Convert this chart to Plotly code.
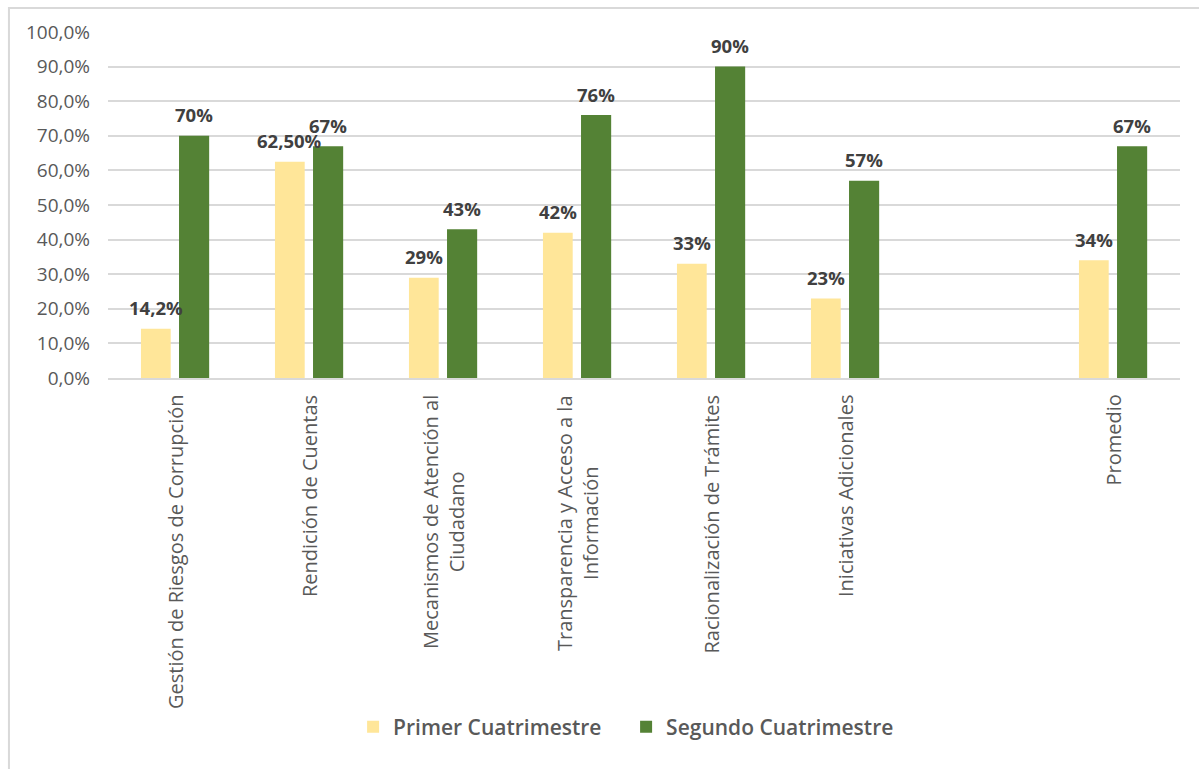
import plotly.graph_objects as go

categories = [
    "Gestión de Riesgos de Corrupción",
    "Rendición de Cuentas",
    "Mecanismos de Atención al<br>Ciudadano",
    "Transparencia y Acceso a la<br>Información",
    "Racionalización de Trámites",
    "Iniciativas Adicionales",
    "",
    "Promedio",
]
primer = [14.2, 62.5, 29, 42, 33, 23, None, 34]
segundo = [70, 67, 43, 76, 90, 57, None, 67]
primer_labels = ["14,2%", "62,50%", "29%", "42%", "33%", "23%", "", "34%"]
segundo_labels = ["70%", "67%", "43%", "76%", "90%", "57%", "", "67%"]
y_ticks = [0, 10, 20, 30, 40, 50, 60, 70, 80, 90, 100]
y_ticktext = ["0,0%", "10,0%", "20,0%", "30,0%", "40,0%", "50,0%", "60,0%", "70,0%", "80,0%", "90,0%", "100,0%"]

YELLOW = "#FFE699"
GREEN = "#548235"
FONT = "Open Sans"

xpos = list(range(len(categories)))

fig = go.Figure()
fig.add_trace(go.Bar(
    x=xpos, y=primer, name="Primer Cuatrimestre",
    marker=dict(color=YELLOW, line=dict(width=0)),
    width=0.222, offset=-0.254, hoverinfo="skip",
))
fig.add_trace(go.Bar(
    x=xpos, y=segundo, name="Segundo Cuatrimestre",
    marker=dict(color=GREEN, line=dict(width=0)),
    width=0.225, offset=0.030, hoverinfo="skip",
))

annotations = []
for i, (v, t) in enumerate(zip(primer, primer_labels)):
    if v is None:
        continue
    annotations.append(dict(x=i - 0.254 + 0.111, y=v, xref="x", yref="y", text=t,
                            showarrow=False, yanchor="middle", xanchor="center", yshift=21,
                            font=dict(family=FONT, size=18.5, color="#404040", weight="bold")))
for i, (v, t) in enumerate(zip(segundo, segundo_labels)):
    if v is None:
        continue
    annotations.append(dict(x=i + 0.030 + 0.1125, y=v, xref="x", yref="y", text=t,
                            showarrow=False, yanchor="middle", xanchor="center", yshift=21,
                            font=dict(family=FONT, size=18.5, color="#404040", weight="bold")))
for i, c in enumerate(categories):
    if not c:
        continue
    annotations.append(dict(x=i, y=0, xref="x", yref="paper", text=c, textangle=-90,
                            showarrow=False, yanchor="top", xanchor="center", align="center",
                            yshift=-15,
                            font=dict(family=FONT, size=20, color="#595959")))

fig.update_layout(
    width=1199, height=769,
    margin=dict(l=108, r=19, t=32, b=391, autoexpand=False),
    paper_bgcolor="white", plot_bgcolor="white",
    barmode="overlay",
    showlegend=True,
    legend=dict(orientation="h", x=0.4833, xanchor="center", y=-1.009, yanchor="middle",
                font=dict(family=FONT, size=21, color="#595959", weight=600),
                itemwidth=30, traceorder="normal", entrywidth=228, entrywidthmode="pixels"),
    annotations=annotations,
    shapes=[dict(type="rect", xref="paper", yref="paper", x0=-0.0924, x1=1.2,
                 y0=-1.3, y1=1.0694, line=dict(color="#D9D9D9", width=2), layer="below")],
)
fig.update_xaxes(range=[-0.5, 7.5], showticklabels=False, showgrid=False, zeroline=False,
                 showline=True, linecolor="#D9D9D9", linewidth=1.5, ticks="")
fig.update_yaxes(range=[0, 100], tickvals=y_ticks, ticktext=y_ticktext, showgrid=True,
                 gridcolor="#D9D9D9", gridwidth=1.5, zeroline=False, showline=False, ticks="",
                 ticklabelstandoff=17,
                 tickfont=dict(family=FONT, size=19, color="#595959"))

fig.write_html("out.html")
